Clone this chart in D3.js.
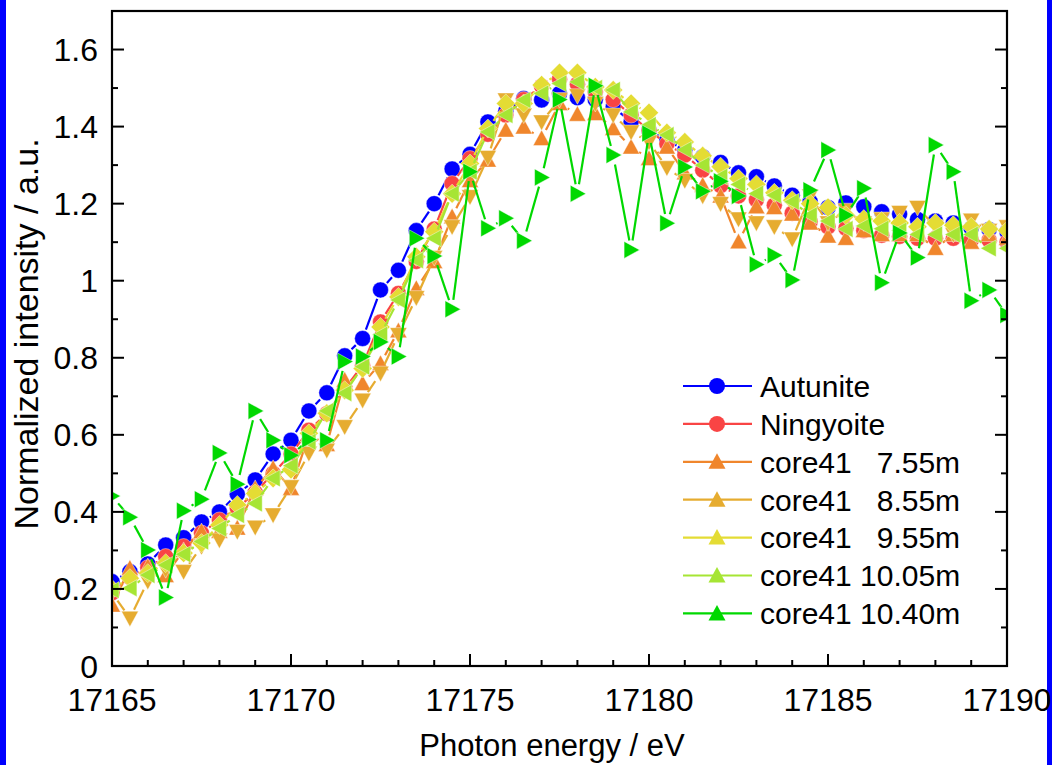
<!DOCTYPE html>
<html>
<head>
<meta charset="utf-8">
<script src="https://cdn.jsdelivr.net/npm/d3@7/dist/d3.min.js"></script>
<style>
  html, body { margin: 0; padding: 0; background: #fff; }
  svg { display: block; font-family: "Liberation Sans", Arial, sans-serif; }
</style>
</head>
<body>
<svg id="chart" width="1052" height="765"></svg>
<script>
// Photon energy grid (eV), 0.5 eV steps
const energies = d3.range(17165, 17190.001, 0.5);

const autunite = [0.219,0.245,0.265,0.314,0.333,0.374,0.400,0.446,0.483,0.550,0.586,0.662,0.709,0.805,0.850,0.976,1.027,1.130,1.200,1.290,1.328,1.412,1.440,1.473,1.469,1.486,1.475,1.470,1.451,1.412,1.391,1.365,1.339,1.322,1.307,1.280,1.270,1.246,1.222,1.205,1.190,1.202,1.192,1.179,1.173,1.159,1.155,1.150,1.136,1.133,1.127];
const ningyoite = [0.190,0.230,0.255,0.284,0.310,0.345,0.379,0.410,0.450,0.500,0.550,0.612,0.655,0.720,0.780,0.893,0.967,1.050,1.134,1.252,1.317,1.380,1.430,1.470,1.505,1.523,1.510,1.490,1.470,1.430,1.390,1.355,1.326,1.287,1.247,1.220,1.210,1.196,1.175,1.153,1.140,1.136,1.130,1.118,1.115,1.110,1.110,1.110,1.105,1.105,1.100];
const core755 = [0.158,0.254,0.258,0.235,0.300,0.349,0.350,0.358,0.461,0.513,0.461,0.600,0.575,0.742,0.733,0.785,0.870,0.980,1.050,1.166,1.260,1.313,1.391,1.399,1.369,1.460,1.432,1.434,1.395,1.347,1.317,1.347,1.280,1.248,1.220,1.101,1.192,1.190,1.173,1.150,1.116,1.110,1.130,1.120,1.120,1.120,1.084,1.120,1.100,1.120,1.110];
const core855 = [0.190,0.124,0.220,0.250,0.245,0.310,0.327,0.349,0.360,0.392,0.465,0.552,0.560,0.621,0.690,0.760,0.860,0.956,1.060,1.140,1.218,1.320,1.469,1.430,1.412,1.470,1.480,1.460,1.430,1.386,1.360,1.293,1.260,1.220,1.200,1.160,1.150,1.140,1.108,1.220,1.150,1.183,1.150,1.160,1.177,1.190,1.140,1.120,1.157,1.130,1.140];
const core955 = [0.200,0.228,0.241,0.267,0.293,0.319,0.366,0.418,0.448,0.487,0.510,0.604,0.656,0.716,0.772,0.880,0.958,1.062,1.127,1.226,1.304,1.395,1.460,1.460,1.508,1.540,1.540,1.503,1.495,1.460,1.436,1.384,1.360,1.324,1.296,1.265,1.250,1.228,1.209,1.200,1.190,1.170,1.160,1.155,1.150,1.140,1.150,1.144,1.140,1.134,1.130];
const core1005 = [0.197,0.202,0.236,0.262,0.290,0.323,0.357,0.392,0.422,0.487,0.520,0.582,0.662,0.708,0.777,0.860,0.950,1.053,1.110,1.226,1.283,1.386,1.430,1.469,1.486,1.512,1.516,1.500,1.495,1.438,1.404,1.378,1.340,1.300,1.270,1.250,1.226,1.222,1.205,1.170,1.155,1.134,1.142,1.135,1.130,1.120,1.120,1.120,1.120,1.084,1.084];
const core1040 = [0.441,0.386,0.301,0.178,0.403,0.433,0.553,0.472,0.662,0.586,0.547,0.588,0.586,0.790,0.803,0.841,0.803,1.110,1.064,0.926,1.283,1.136,1.162,1.104,1.268,1.470,1.226,1.506,1.326,1.080,1.382,1.149,1.295,1.232,1.258,1.220,1.042,1.066,1.002,1.235,1.339,1.170,1.240,0.995,1.124,1.060,1.352,1.283,0.948,0.976,0.911];

const seriesNames = ["Autunite", "Ningyoite", "core41   7.55m", "core41   8.55m", "core41   9.55m", "core41 10.05m", "core41 10.40m"];
const seriesValues = [autunite, ningyoite, core755, core855, core955, core1005, core1040];
const seriesColors = ["#0000ff", "#f94444", "#f0862c", "#e6ac30", "#e4dc34", "#a6e534", "#00d800"];
const seriesSymbols = ["circle", "circle", "up", "down", "diamond", "left", "right"];
const legendSymbols = ["circle", "circle", "up", "up", "up", "up", "up"];

const xTicks = [17165, 17170, 17175, 17180, 17185, 17190];
const yTicks = [0, 0.2, 0.4, 0.6, 0.8, 1.0, 1.2, 1.4, 1.6];

const svg = d3.select("#chart");
const plot = { left: 112, right: 1007, top: 11, bottom: 666 };

const x = d3.scaleLinear().domain([17165, 17190]).range([plot.left, plot.right]);
const y = d3.scaleLinear().domain([0, 1.7]).range([plot.bottom, plot.top]);

// blue frame on both sides
svg.append("rect").attr("x", 0).attr("y", 0).attr("width", 6).attr("height", 765).attr("fill", "#0000ff");
svg.append("rect").attr("x", 1047).attr("y", 0).attr("width", 5).attr("height", 765).attr("fill", "#0000ff");

// symbol path generators
function symbolPath(kind) {
  switch (kind) {
    case "circle": return "M8,0A8,8 0 1,1 -8,0A8,8 0 1,1 8,0Z";
    case "up": return "M0,-8.5L8.5,7L-8.5,7Z";
    case "down": return "M0,8.5L8.5,-7L-8.5,-7Z";
    case "diamond": return "M0,-9.5L9.5,0L0,9.5L-9.5,0Z";
    case "left": return "M-8.5,0L7,-8.5L7,8.5Z";
    case "right": return "M8.5,0L-7,-8.5L-7,8.5Z";
  }
}

svg.append("defs").append("clipPath").attr("id", "plotclip")
  .append("rect").attr("x", plot.left).attr("y", plot.top)
  .attr("width", plot.right - plot.left).attr("height", plot.bottom - plot.top);

const dataLayer = svg.append("g").attr("clip-path", "url(#plotclip)");
const gap = 9.5;

seriesValues.forEach((vals, s) => {
  const pts = vals.map((v, i) => [x(energies[i]), y(v)]);
  const g = dataLayer.append("g");
  // connecting segments, trimmed back from each symbol
  const segs = [];
  for (let i = 0; i < pts.length - 1; i++) {
    const [x0, y0] = pts[i], [x1, y1] = pts[i + 1];
    const len = Math.hypot(x1 - x0, y1 - y0);
    if (len <= 2 * gap + 1) continue;
    const ux = (x1 - x0) / len, uy = (y1 - y0) / len;
    segs.push([x0 + ux * gap, y0 + uy * gap, x1 - ux * gap, y1 - uy * gap]);
  }
  g.selectAll("line").data(segs).join("line")
    .attr("x1", d => d[0]).attr("y1", d => d[1])
    .attr("x2", d => d[2]).attr("y2", d => d[3])
    .attr("stroke", seriesColors[s]).attr("stroke-width", 2.2);
  g.selectAll("path").data(pts).join("path")
    .attr("transform", d => `translate(${d[0]},${d[1]})`)
    .attr("d", symbolPath(seriesSymbols[s]))
    .attr("fill", seriesColors[s])
    .attr("stroke", "#ffffff").attr("stroke-width", 0.6).attr("stroke-opacity", 0.7);
});

// axes
const axisG = svg.append("g");
const xMinor = d3.range(17165, 17190.001, 1);
const yMinor = d3.range(0, 1.7001, 0.1);

// bottom ticks (inward)
axisG.selectAll(".xt").data(xMinor).join("line")
  .attr("x1", d => x(d)).attr("x2", d => x(d))
  .attr("y1", plot.bottom).attr("y2", d => plot.bottom - (xTicks.some(t => Math.abs(t - d) < 1e-6) ? 12 : 6))
  .attr("stroke", "#000").attr("stroke-width", 2);
// left and right ticks (inward)
[[plot.left, 1], [plot.right, -1]].forEach(([xx, dir]) => {
  axisG.selectAll(null).data(yMinor).join("line")
    .attr("x1", xx).attr("x2", (d, i) => xx + dir * (i % 2 === 0 ? 12 : 6))
    .attr("y1", d => y(d)).attr("y2", d => y(d))
    .attr("stroke", "#000").attr("stroke-width", 2);
});

// frame
axisG.append("rect")
  .attr("x", plot.left).attr("y", plot.top)
  .attr("width", plot.right - plot.left).attr("height", plot.bottom - plot.top)
  .attr("fill", "none").attr("stroke", "#000").attr("stroke-width", 2.2);

// tick labels
const fmtY = d => d === 0 ? "0" : (Math.abs(d - 1) < 1e-9 ? "1" : d3.format(".1f")(d));
axisG.selectAll(".ylab").data(yTicks).join("text")
  .attr("x", plot.left - 14).attr("y", d => y(d)).attr("dy", "0.36em")
  .attr("text-anchor", "end").attr("font-size", 32).attr("fill", "#000")
  .text(fmtY);
axisG.selectAll(".xlab").data(xTicks).join("text")
  .attr("x", d => x(d)).attr("y", 711)
  .attr("text-anchor", "middle").attr("font-size", 32).attr("fill", "#000")
  .text(d => d);

// axis titles
svg.append("text").attr("x", 552).attr("y", 756).attr("text-anchor", "middle")
  .attr("font-size", 31).attr("fill", "#000").text("Photon energy / eV");
svg.append("text").attr("transform", "translate(38,334) rotate(-90)")
  .attr("text-anchor", "middle").attr("font-size", 34).attr("fill", "#000")
  .text("Normalized intensity / a.u.");

// legend
const legend = svg.append("g");
seriesNames.forEach((name, s) => {
  const ly = 386 + s * 37.9;
  legend.append("line").attr("x1", 683).attr("x2", 752).attr("y1", ly).attr("y2", ly)
    .attr("stroke", seriesColors[s]).attr("stroke-width", 2.2);
  legend.append("path").attr("transform", `translate(717,${ly})`)
    .attr("d", symbolPath(legendSymbols[s])).attr("fill", seriesColors[s]);
  legend.append("text").attr("x", 760).attr("y", ly).attr("dy", "0.36em")
    .attr("font-size", 30).attr("fill", "#000")
    .attr("xml:space", "preserve").style("white-space", "pre").text(name);
});
</script>
</body>
</html>
